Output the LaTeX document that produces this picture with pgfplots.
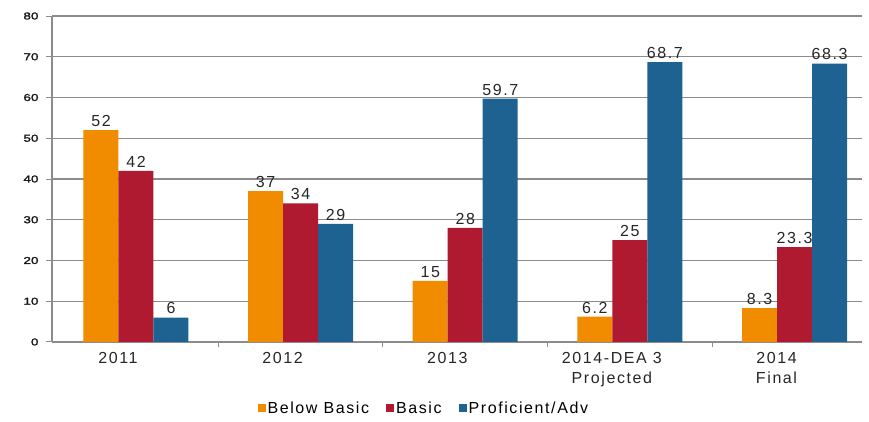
\documentclass[border=0pt]{standalone}
\usepackage{pgfplots}
\pgfplotsset{compat=1.18}
\usepackage{fontspec}
\setmainfont{Liberation Sans}
\newfontfamily\wide[LetterSpace=10]{Liberation Sans}
\newfontfamily\ywide[FakeStretch=1.35,FakeBold=2]{Liberation Sans}
\definecolor{orC}{HTML}{F18B00}
\definecolor{rdC}{HTML}{B01A30}
\definecolor{blC}{HTML}{1D6290}
\definecolor{gridg}{HTML}{8C8C8C}
\begin{document}
\begin{tikzpicture}[x=1pt,y=1pt]
\begin{axis}[
  at={(0,0)}, anchor=south west,
  scale only axis,
  width=810pt, height=326pt,
  ybar=0pt, bar width=35pt,
  xmin=-0.51, xmax=4.41,
  ymin=0, ymax=80,
  ytick={0,10,...,80},
  xtick={0,1,2,3,4},
  xticklabels={2011,2012,2013,{2014-DEA 3\\Projected},{2014\\Final}},
  xticklabel style={align=center, font=\wide\fontsize{16}{20}\selectfont, text=black!85, xshift=-18pt},
  minor xtick={0.5,1.5,2.5,3.5},
  major x tick style={draw=none},
  minor tick length=5pt,
  minor x tick style={draw=gridg, line width=1pt},
  x tick label style={yshift=-1pt},
  yticklabel style={font=\ywide\fontsize{10}{12}\selectfont, text=black!90, xshift=-4pt},
  /pgf/number format/assume math mode=true,
  ymajorgrids,
  grid style={draw=gridg, line width=1.2pt},
  axis x line*=bottom, axis y line*=left,
  axis line style={draw=gridg, line width=1.2pt, -},
  y tick style={draw=gridg, line width=1pt},
  tick align=outside, major tick length=6pt,
  nodes near coords,
  nodes near coords style={font=\wide\fontsize{16}{18}\selectfont, text=black!85},
  legend style={at={(0.459,-0.203)}, anchor=center, draw=none, legend columns=3, font=\wide\fontsize{16}{18}\selectfont, /tikz/every even column/.append style={column sep=15pt}},
  legend image code/.code={\fill[#1] (0pt,-4pt) rectangle (8pt,4pt);},
  clip=false,
]
\addplot[draw=none, fill=orC] coordinates {(0,52) (1,37) (2,15) (3,6.2) (4,8.3)};
\addplot[draw=none, fill=rdC] coordinates {(0,42) (1,34) (2,28) (3,25) (4,23.3)};
\addplot[draw=none, fill=blC] coordinates {(0,6) (1,29) (2,59.7) (3,68.7) (4,68.3)};
\legend{Below Basic,Basic,Proficient/Adv}
\end{axis}
\path (-52pt,-80pt) rectangle (817pt,342pt);
\end{tikzpicture}
\end{document}
